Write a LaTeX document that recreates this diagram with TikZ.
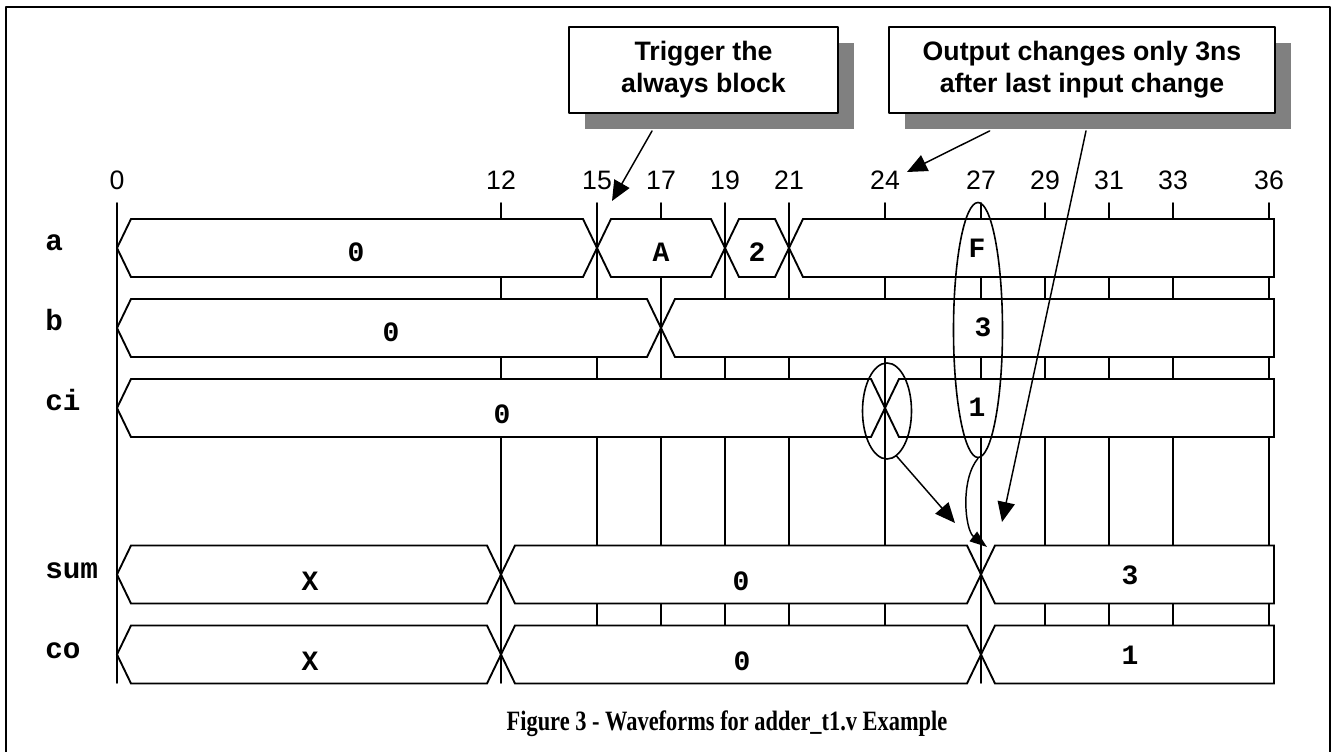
\documentclass[tikz,border=0pt]{standalone}
\usepackage{fontspec}
\setmainfont{Liberation Sans}
\setmonofont{Liberation Mono}
\newfontfamily\capfont{Liberation Serif}
\usetikzlibrary{arrows.meta,positioning,calc,shapes.geometric,shadows}

% time in ns to horizontal position
\newcommand{\tns}[1]{(117+32*(#1))}

% one bus value between two changes
\newcommand{\busseg}[3]{%
  \filldraw[wave]
    ({\tns{#2}},#1) -- ({\tns{#2}+14},#1-29) --
    ({\tns{#3}-14},#1-29) -- ({\tns{#3}},#1) --
    ({\tns{#3}-14},#1+29) -- ({\tns{#2}+14},#1+29) -- cycle;}

% last bus value, square at the right edge
\newcommand{\busend}[2]{%
  \filldraw[wave]
    ({\tns{#2}},#1) -- ({\tns{#2}+14},#1-29) --
    (1274,#1-29) -- (1274,#1+29) --
    ({\tns{#2}+14},#1+29) -- cycle;}

\begin{document}
\begin{tikzpicture}[
  x=0.75pt,
  y=-0.75pt,
  line cap=round,
  line join=round,
  wave/.style={line width=1.4pt, fill=white, line join=miter},
  gridline/.style={line width=1.4pt},
  ticklabel/.style={font=\fontsize{20}{24}\selectfont, inner sep=0pt},
  sig/.style={font=\ttfamily\bfseries\fontsize{22}{26}\selectfont,
    anchor=base west, inner sep=0pt},
  val/.style={font=\ttfamily\bfseries\fontsize{21}{25}\selectfont,
    inner sep=0pt},
  callout/.style={draw, line width=1.4pt, fill=white, align=center,
    minimum height=64.5pt,
    font=\bfseries\fontsize{20}{24}\selectfont,
    drop shadow={shadow xshift=12pt, shadow yshift=-12pt,
      fill=black!50, opacity=1}},
  ringmark/.style={ellipse, draw, line width=1.2pt, inner sep=0pt,
    minimum width=36.75pt},
  callarrow/.style={line width=1.1pt,
    -{Triangle[length=15pt,width=13pt]}}
]

\useasboundingbox (0,0) rectangle (1332,752);
\fill[white] (0,0) rectangle (1332,752);

% Frame
\draw[line width=1.5pt] (6,770) -- (6,7) -- (1330,7) -- (1330,770);

% Time marks and grid
\foreach \t in {0,12,15,17,19,21,24,27,29,31,33,36}{
  \draw[gridline] ({\tns{\t}},203) -- ({\tns{\t}},683);
  \node[ticklabel] (t\t) at ({\tns{\t}},180) {\t};
}

% Signal names
\node[sig] (siga)   at (45,251) {a};
\node[sig] (sigb)   at (45,331) {b};
\node[sig] (sigci)  at (45,411) {ci};
\node[sig] (sigsum) at (45,578) {sum};
\node[sig] (sigco)  at (45,658) {co};

% a
\busseg{248}{0}{15}
\busseg{248}{15}{19}
\busseg{248}{19}{21}
\busend{248}{21}
\node[val] (a0) at (356,252) {0};
\node[val] (aA) at (661,252) {A};
\node[val] (a2) at (757,252) {2};
\node[val] (aF) at (977,248) {F};

% b
\busseg{328}{0}{17}
\busend{328}{17}
\node[val] (b0) at (391,332) {0};
\node[val] (b3) at (983,327) {3};

% ci
\busseg{408}{0}{24}
\busend{408}{24}
\node[val] (ci0) at (502,414) {0};
\node[val] (ci1) at (977,407) {1};

% sum
\busseg{574.5}{0}{12}
\busseg{574.5}{12}{27}
\busend{574.5}{27}
\node[val] (sumX) at (310,581) {X};
\node[val] (sum0) at (741,581) {0};
\node[val] (sum3) at (1130,575) {3};

% co
\busseg{654.5}{0}{12}
\busseg{654.5}{12}{27}
\busend{654.5}{27}
\node[val] (coX) at (310,661) {X};
\node[val] (co0) at (742,661) {0};
\node[val] (co1) at (1130,655) {1};

% Rings round the last input changes
\node[ringmark, minimum height=72pt] (cichg) at (887,411) {};
\node[ringmark, minimum height=191.25pt] (inchg) at (978,330) {};

% Arrow ends
\coordinate (trigtip) at (612,201);
\coordinate (lasttip) at (907,172);
\coordinate (outtip)  at (1002,522);
\coordinate (citip)   at (955,523);
\coordinate (sumtip)  at (987,547);

% Callouts
\node[callout, minimum width=201.75pt] (trigbox) at (703.5,70)
  {Trigger the\\always block};
\node[callout, minimum width=289.5pt] (outbox) at (1082,70)
  {Output changes only 3ns\\after last input change};

\draw[callarrow]
  ($(trigbox.south west)!0.31!(trigbox.south east)+(0,17)$) -- (trigtip);
\draw[callarrow]
  ($(outbox.south west)!0.262!(outbox.south east)+(0,17)$) -- (lasttip);
\draw[callarrow]
  ($(outbox.south)+(4,17)$) -- (outtip);

% From ci change and from the ring to the outputs
\draw[callarrow] (cichg.-78) -- (citip);
\draw[line width=1.1pt, -{Triangle[length=13pt,width=9pt]}]
  (inchg.south)
  .. controls (960,480) and (965,530) ..
     (sumtip);

% Caption
\node[font=\capfont\bfseries\fontsize{21}{25}\selectfont, xscale=0.8]
  (caption) at (727,724) {Figure 3 - Waveforms for adder\_t1.v Example};

\end{tikzpicture}
\end{document}
